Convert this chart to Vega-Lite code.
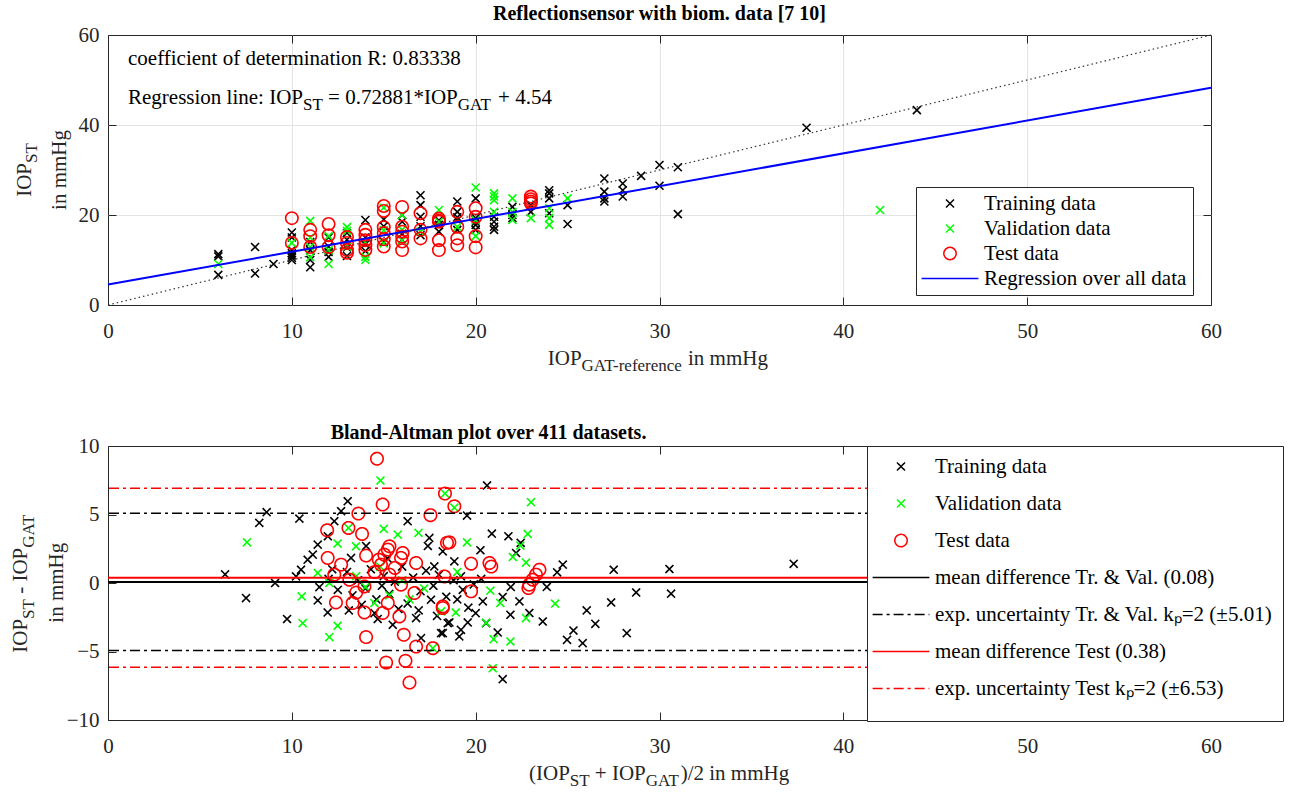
{
"$schema": "https://vega.github.io/schema/vega-lite/v6.json",
"background": "white",
"padding": {"left": 9, "top": 3, "right": 0, "bottom": 0},
"autosize": {"type": "pad"},
"config": {
  "font": "Liberation Serif",
  "view": {"stroke": "#262626", "strokeWidth": 1},
  "axis": {"labelFont": "Liberation Serif", "labelFontSize": 21, "labelColor": "#262626", "tickColor": "#262626", "tickSize": -8, "tickWidth": 1, "domain": false, "labelFlush": false, "labelOverlap": false, "labelBound": false, "grid": false, "gridColor": "#e3e3e3", "gridWidth": 1},
  "axisX": {"labelPadding": 23},
  "axisY": {"labelPadding": 17},
  "legend": {"labelFont": "Liberation Serif", "labelFontSize": 21, "labelColor": "#000000", "labelLimit": 0, "titleFont": "Liberation Serif"},
  "title": {"font": "Liberation Serif", "fontSize": 20, "fontWeight": "bold", "color": "#000000", "frame": "group"}
},
"datasets": {
  "top_pts": [
    {"gat":6,"st":11.3,"series":"Training data"},{"gat":6,"st":10.8,"series":"Training data"},{"gat":6,"st":6.7,"series":"Training data"},{"gat":8,"st":12.9,"series":"Training data"},{"gat":8,"st":7.0,"series":"Training data"},{"gat":9,"st":9.1,"series":"Training data"},
    {"gat":10,"st":16.1,"series":"Training data"},{"gat":10,"st":15.0,"series":"Training data"},{"gat":10,"st":12.2,"series":"Training data"},{"gat":10,"st":11.5,"series":"Training data"},{"gat":10,"st":11.0,"series":"Training data"},{"gat":10,"st":10.5,"series":"Training data"},{"gat":10,"st":10.0,"series":"Training data"},
    {"gat":11,"st":14.0,"series":"Training data"},{"gat":11,"st":12.2,"series":"Training data"},{"gat":11,"st":10.0,"series":"Training data"},{"gat":11,"st":8.4,"series":"Training data"},
    {"gat":12,"st":15.0,"series":"Training data"},{"gat":12,"st":13.0,"series":"Training data"},{"gat":12,"st":11.8,"series":"Training data"},{"gat":12,"st":10.7,"series":"Training data"},
    {"gat":13,"st":16.0,"series":"Training data"},{"gat":13,"st":14.5,"series":"Training data"},{"gat":13,"st":12.8,"series":"Training data"},{"gat":13,"st":10.9,"series":"Training data"},
    {"gat":14,"st":18.9,"series":"Training data"},{"gat":14,"st":15.0,"series":"Training data"},{"gat":14,"st":13.5,"series":"Training data"},{"gat":14,"st":12.0,"series":"Training data"},
    {"gat":15,"st":19.0,"series":"Training data"},{"gat":15,"st":17.5,"series":"Training data"},{"gat":15,"st":14.0,"series":"Training data"},
    {"gat":16,"st":20.0,"series":"Training data"},{"gat":16,"st":18.5,"series":"Training data"},{"gat":16,"st":15.8,"series":"Training data"},{"gat":16,"st":14.5,"series":"Training data"},
    {"gat":17,"st":24.4,"series":"Training data"},{"gat":17,"st":22.2,"series":"Training data"},{"gat":17,"st":19.6,"series":"Training data"},{"gat":17,"st":17.5,"series":"Training data"},{"gat":17,"st":15.5,"series":"Training data"},
    {"gat":18,"st":18.8,"series":"Training data"},{"gat":18,"st":17.8,"series":"Training data"},{"gat":18,"st":16.3,"series":"Training data"},
    {"gat":19,"st":23.0,"series":"Training data"},{"gat":19,"st":20.7,"series":"Training data"},{"gat":19,"st":19.5,"series":"Training data"},{"gat":19,"st":18.9,"series":"Training data"},{"gat":19,"st":16.7,"series":"Training data"},
    {"gat":20,"st":23.7,"series":"Training data"},{"gat":20,"st":19.3,"series":"Training data"},{"gat":20,"st":18.5,"series":"Training data"},{"gat":20,"st":17.8,"series":"Training data"},{"gat":20,"st":16.7,"series":"Training data"},
    {"gat":21,"st":19.6,"series":"Training data"},{"gat":21,"st":18.5,"series":"Training data"},{"gat":21,"st":17.4,"series":"Training data"},{"gat":21,"st":16.7,"series":"Training data"},
    {"gat":22,"st":21.8,"series":"Training data"},{"gat":22,"st":20.0,"series":"Training data"},{"gat":22,"st":19.3,"series":"Training data"},
    {"gat":23,"st":22.2,"series":"Training data"},{"gat":23,"st":20.7,"series":"Training data"},
    {"gat":24,"st":25.5,"series":"Training data"},{"gat":24,"st":24.8,"series":"Training data"},{"gat":24,"st":23.7,"series":"Training data"},{"gat":24,"st":20.4,"series":"Training data"},
    {"gat":25,"st":22.2,"series":"Training data"},{"gat":25,"st":18.0,"series":"Training data"},
    {"gat":27,"st":28.1,"series":"Training data"},{"gat":27,"st":25.2,"series":"Training data"},{"gat":27,"st":23.7,"series":"Training data"},{"gat":27,"st":23.0,"series":"Training data"},
    {"gat":28,"st":27.0,"series":"Training data"},{"gat":28,"st":25.5,"series":"Training data"},{"gat":28,"st":24.1,"series":"Training data"},
    {"gat":29,"st":28.7,"series":"Training data"},{"gat":30,"st":31.1,"series":"Training data"},{"gat":30,"st":26.5,"series":"Training data"},{"gat":31,"st":30.6,"series":"Training data"},{"gat":31,"st":20.2,"series":"Training data"},{"gat":38,"st":39.4,"series":"Training data"},{"gat":44,"st":43.3,"series":"Training data"},
    {"gat":6,"st":9.1,"series":"Validation data"},{"gat":10,"st":13.8,"series":"Validation data"},{"gat":11,"st":18.7,"series":"Validation data"},{"gat":11,"st":15.0,"series":"Validation data"},{"gat":11,"st":12.9,"series":"Validation data"},{"gat":11,"st":10.6,"series":"Validation data"},
    {"gat":12,"st":15.3,"series":"Validation data"},{"gat":12,"st":12.2,"series":"Validation data"},{"gat":12,"st":9.1,"series":"Validation data"},{"gat":13,"st":17.3,"series":"Validation data"},{"gat":13,"st":16.5,"series":"Validation data"},{"gat":13,"st":13.0,"series":"Validation data"},
    {"gat":14,"st":14.0,"series":"Validation data"},{"gat":14,"st":10.7,"series":"Validation data"},{"gat":14,"st":10.0,"series":"Validation data"},{"gat":15,"st":21.6,"series":"Validation data"},{"gat":15,"st":16.6,"series":"Validation data"},{"gat":15,"st":13.7,"series":"Validation data"},
    {"gat":16,"st":20.0,"series":"Validation data"},{"gat":16,"st":16.7,"series":"Validation data"},{"gat":16,"st":14.4,"series":"Validation data"},{"gat":17,"st":16.3,"series":"Validation data"},{"gat":18,"st":21.1,"series":"Validation data"},{"gat":18,"st":18.5,"series":"Validation data"},
    {"gat":19,"st":17.4,"series":"Validation data"},{"gat":20,"st":26.1,"series":"Validation data"},{"gat":20,"st":18.9,"series":"Validation data"},{"gat":20,"st":15.3,"series":"Validation data"},
    {"gat":21,"st":24.8,"series":"Validation data"},{"gat":21,"st":24.1,"series":"Validation data"},{"gat":21,"st":23.3,"series":"Validation data"},{"gat":21,"st":20.7,"series":"Validation data"},
    {"gat":22,"st":23.7,"series":"Validation data"},{"gat":22,"st":20.7,"series":"Validation data"},{"gat":22,"st":18.9,"series":"Validation data"},{"gat":23,"st":19.3,"series":"Validation data"},
    {"gat":24,"st":21.5,"series":"Validation data"},{"gat":24,"st":19.3,"series":"Validation data"},{"gat":24,"st":17.8,"series":"Validation data"},{"gat":25,"st":23.7,"series":"Validation data"},{"gat":42,"st":21.1,"series":"Validation data"},
    {"gat":10,"st":19.3,"series":"Test data"},{"gat":10,"st":13.8,"series":"Test data"},{"gat":11,"st":16.7,"series":"Test data"},{"gat":11,"st":15.3,"series":"Test data"},{"gat":11,"st":12.9,"series":"Test data"},
    {"gat":12,"st":18.0,"series":"Test data"},{"gat":12,"st":15.5,"series":"Test data"},{"gat":12,"st":12.9,"series":"Test data"},
    {"gat":13,"st":15.1,"series":"Test data"},{"gat":13,"st":13.8,"series":"Test data"},{"gat":13,"st":12.2,"series":"Test data"},{"gat":13,"st":11.6,"series":"Test data"},
    {"gat":14,"st":16.7,"series":"Test data"},{"gat":14,"st":15.6,"series":"Test data"},{"gat":14,"st":14.4,"series":"Test data"},{"gat":14,"st":13.3,"series":"Test data"},{"gat":14,"st":12.2,"series":"Test data"},
    {"gat":15,"st":22.0,"series":"Test data"},{"gat":15,"st":20.9,"series":"Test data"},{"gat":15,"st":17.3,"series":"Test data"},{"gat":15,"st":16.0,"series":"Test data"},{"gat":15,"st":14.6,"series":"Test data"},{"gat":15,"st":13.0,"series":"Test data"},
    {"gat":16,"st":21.8,"series":"Test data"},{"gat":16,"st":17.4,"series":"Test data"},{"gat":16,"st":16.3,"series":"Test data"},{"gat":16,"st":15.2,"series":"Test data"},{"gat":16,"st":14.1,"series":"Test data"},{"gat":16,"st":12.2,"series":"Test data"},
    {"gat":17,"st":20.4,"series":"Test data"},{"gat":17,"st":16.7,"series":"Test data"},{"gat":17,"st":14.8,"series":"Test data"},
    {"gat":18,"st":19.2,"series":"Test data"},{"gat":18,"st":18.8,"series":"Test data"},{"gat":18,"st":18.5,"series":"Test data"},{"gat":18,"st":14.4,"series":"Test data"},{"gat":18,"st":12.2,"series":"Test data"},
    {"gat":19,"st":20.7,"series":"Test data"},{"gat":19,"st":17.4,"series":"Test data"},{"gat":19,"st":14.8,"series":"Test data"},{"gat":19,"st":13.3,"series":"Test data"},
    {"gat":20,"st":21.5,"series":"Test data"},{"gat":20,"st":19.6,"series":"Test data"},{"gat":20,"st":15.3,"series":"Test data"},{"gat":20,"st":12.8,"series":"Test data"},
    {"gat":23,"st":24.1,"series":"Test data"},{"gat":23,"st":23.5,"series":"Test data"},{"gat":23,"st":23.0,"series":"Test data"},{"gat":23,"st":22.6,"series":"Test data"}
  ],
  "top_lines": [
    {"gat":0,"st":0,"line":"identity"},{"gat":60,"st":60,"line":"identity"},
    {"gat":0,"st":4.54,"line":"regression"},{"gat":60,"st":48.27,"line":"regression"}
  ],
  "bot_pts": [
    {"mean":6.37,"diff":0.63,"series":"Training data"},{"mean":7.51,"diff":-1.1,"series":"Training data"},{"mean":8.23,"diff":4.39,"series":"Training data"},{"mean":8.63,"diff":5.17,"series":"Training data"},{"mean":9.09,"diff":0.0,"series":"Training data"},{"mean":9.74,"diff":-2.63,"series":"Training data"},
    {"mean":10.41,"diff":4.7,"series":"Training data"},{"mean":10.23,"diff":0.48,"series":"Training data"},{"mean":10.5,"diff":0.97,"series":"Training data"},{"mean":10.86,"diff":1.7,"series":"Training data"},{"mean":11.14,"diff":2.07,"series":"Training data"},{"mean":11.41,"diff":2.8,"series":"Training data"},
    {"mean":11.96,"diff":3.41,"series":"Training data"},{"mean":11.41,"diff":-1.27,"series":"Training data"},{"mean":11.95,"diff":-2.15,"series":"Training data"},{"mean":12.31,"diff":4.51,"series":"Training data"},{"mean":12.68,"diff":5.24,"series":"Training data"},{"mean":13.04,"diff":5.97,"series":"Training data"},
    {"mean":13.22,"diff":1.83,"series":"Training data"},{"mean":14.04,"diff":2.7,"series":"Training data"},{"mean":16.3,"diff":4.51,"series":"Training data"},{"mean":17.48,"diff":3.29,"series":"Training data"},{"mean":17.4,"diff":2.7,"series":"Training data"},{"mean":17.75,"diff":1.21,"series":"Training data"},
    {"mean":15.49,"diff":-3.05,"series":"Training data"},{"mean":17.03,"diff":-4.02,"series":"Training data"},{"mean":18.12,"diff":-3.66,"series":"Training data"},{"mean":16.76,"diff":-2.56,"series":"Training data"},{"mean":17.57,"diff":-1.22,"series":"Training data"},{"mean":14.67,"diff":-2.63,"series":"Training data"},
    {"mean":14.5,"diff":-2.2,"series":"Training data"},{"mean":18.48,"diff":-2.93,"series":"Training data"},{"mean":20.62,"diff":7.12,"series":"Training data"},{"mean":19.53,"diff":4.92,"series":"Training data"},{"mean":20.88,"diff":3.6,"series":"Training data"},{"mean":21.78,"diff":3.41,"series":"Training data"},
    {"mean":22.45,"diff":2.93,"series":"Training data"},{"mean":22.2,"diff":2.19,"series":"Training data"},{"mean":20.26,"diff":2.39,"series":"Training data"},{"mean":18.84,"diff":1.58,"series":"Training data"},{"mean":24.74,"diff":1.34,"series":"Training data"},{"mean":24.43,"diff":0.78,"series":"Training data"},
    {"mean":27.51,"diff":0.97,"series":"Training data"},{"mean":30.54,"diff":1.02,"series":"Training data"},{"mean":18.21,"diff":2.31,"series":"Training data"},{"mean":19.2,"diff":0.49,"series":"Training data"},{"mean":28.73,"diff":-0.69,"series":"Training data"},{"mean":30.63,"diff":-0.78,"series":"Training data"},
    {"mean":27.37,"diff":-1.42,"series":"Training data"},{"mean":26.04,"diff":-2.0,"series":"Training data"},{"mean":26.51,"diff":-2.98,"series":"Training data"},{"mean":25.32,"diff":-3.47,"series":"Training data"},{"mean":24.97,"diff":-4.15,"series":"Training data"},{"mean":25.82,"diff":-4.39,"series":"Training data"},
    {"mean":28.22,"diff":-3.66,"series":"Training data"},{"mean":23.65,"diff":-2.81,"series":"Training data"},{"mean":22.92,"diff":-2.19,"series":"Training data"},{"mean":21.89,"diff":-2.32,"series":"Training data"},{"mean":22.38,"diff":-1.34,"series":"Training data"},{"mean":21.91,"diff":-0.29,"series":"Training data"},
    {"mean":23.87,"diff":-0.29,"series":"Training data"},{"mean":20.39,"diff":-1.34,"series":"Training data"},{"mean":21.47,"diff":-1.02,"series":"Training data"},{"mean":20.57,"diff":-2.93,"series":"Training data"},{"mean":21.2,"diff":-3.61,"series":"Training data"},{"mean":21.47,"diff":-7.02,"series":"Training data"},
    {"mean":19.57,"diff":-2.88,"series":"Training data"},{"mean":19.2,"diff":-3.42,"series":"Training data"},{"mean":19.11,"diff":-3.9,"series":"Training data"},{"mean":18.57,"diff":-2.88,"series":"Training data"},{"mean":18.21,"diff":-3.66,"series":"Training data"},{"mean":37.3,"diff":1.4,"series":"Training data"},
    {"mean":12.0,"diff":0.3,"series":"Training data"},{"mean":12.5,"diff":-0.5,"series":"Training data"},{"mean":13.0,"diff":0.8,"series":"Training data"},{"mean":13.3,"diff":-0.9,"series":"Training data"},{"mean":13.6,"diff":0.2,"series":"Training data"},{"mean":14.0,"diff":-0.4,"series":"Training data"},
    {"mean":14.3,"diff":1.0,"series":"Training data"},{"mean":14.6,"diff":-1.2,"series":"Training data"},{"mean":15.0,"diff":0.5,"series":"Training data"},{"mean":15.3,"diff":-0.8,"series":"Training data"},{"mean":15.6,"diff":0.1,"series":"Training data"},{"mean":16.0,"diff":1.2,"series":"Training data"},
    {"mean":16.3,"diff":-1.5,"series":"Training data"},{"mean":16.6,"diff":0.4,"series":"Training data"},{"mean":17.0,"diff":-0.6,"series":"Training data"},{"mean":17.3,"diff":0.9,"series":"Training data"},{"mean":17.7,"diff":-0.2,"series":"Training data"},{"mean":18.0,"diff":0.6,"series":"Training data"},
    {"mean":18.4,"diff":-1.0,"series":"Training data"},{"mean":18.8,"diff":0.2,"series":"Training data"},{"mean":19.3,"diff":-0.5,"series":"Training data"},{"mean":19.6,"diff":-1.8,"series":"Training data"},{"mean":19.9,"diff":-0.1,"series":"Training data"},{"mean":20.3,"diff":0.3,"series":"Training data"},
    {"mean":15.8,"diff":-1.9,"series":"Training data"},{"mean":16.9,"diff":-2.0,"series":"Training data"},{"mean":13.8,"diff":-1.6,"series":"Training data"},{"mean":15.2,"diff":1.8,"series":"Training data"},{"mean":17.9,"diff":-2.4,"series":"Training data"},{"mean":14.9,"diff":-0.2,"series":"Training data"},
    {"mean":19.0,"diff":-1.2,"series":"Training data"},{"mean":20.0,"diff":-2.2,"series":"Training data"},{"mean":12.2,"diff":1.0,"series":"Training data"},{"mean":11.5,"diff":-0.3,"series":"Training data"},{"mean":13.1,"diff":-2.0,"series":"Training data"},
    {"mean":7.56,"diff":2.97,"series":"Validation data"},{"mean":14.82,"diff":7.48,"series":"Validation data"},{"mean":18.33,"diff":6.53,"series":"Validation data"},{"mean":23.01,"diff":5.9,"series":"Validation data"},{"mean":12.49,"diff":2.88,"series":"Validation data"},{"mean":15.0,"diff":3.95,"series":"Validation data"},
    {"mean":15.76,"diff":3.53,"series":"Validation data"},{"mean":16.89,"diff":3.66,"series":"Validation data"},{"mean":13.08,"diff":4.02,"series":"Validation data"},{"mean":13.49,"diff":2.68,"series":"Validation data"},{"mean":11.41,"diff":0.73,"series":"Validation data"},{"mean":12.04,"diff":0.0,"series":"Validation data"},
    {"mean":10.54,"diff":-0.98,"series":"Validation data"},{"mean":10.59,"diff":-2.93,"series":"Validation data"},{"mean":12.49,"diff":-3.12,"series":"Validation data"},{"mean":12.04,"diff":-3.95,"series":"Validation data"},{"mean":14.49,"diff":-1.46,"series":"Validation data"},{"mean":15.3,"diff":-0.9,"series":"Validation data"},
    {"mean":16.4,"diff":-1.2,"series":"Validation data"},{"mean":18.12,"diff":-2.07,"series":"Validation data"},{"mean":17.67,"diff":-4.76,"series":"Validation data"},{"mean":18.92,"diff":-2.15,"series":"Validation data"},{"mean":19.53,"diff":2.97,"series":"Validation data"},{"mean":22.83,"diff":3.58,"series":"Validation data"},
    {"mean":22.43,"diff":2.73,"series":"Validation data"},{"mean":22.02,"diff":1.9,"series":"Validation data"},{"mean":22.74,"diff":1.49,"series":"Validation data"},{"mean":24.32,"diff":-1.51,"series":"Validation data"},{"mean":22.74,"diff":-2.56,"series":"Validation data"},{"mean":20.8,"diff":-0.56,"series":"Validation data"},
    {"mean":21.34,"diff":-1.46,"series":"Validation data"},{"mean":20.57,"diff":-2.9,"series":"Validation data"},{"mean":20.98,"diff":-4.1,"series":"Validation data"},{"mean":21.89,"diff":-4.27,"series":"Validation data"},{"mean":20.93,"diff":-6.22,"series":"Validation data"},{"mean":18.84,"diff":5.5,"series":"Validation data"},
    {"mean":14.0,"diff":-0.3,"series":"Validation data"},{"mean":13.5,"diff":0.5,"series":"Validation data"},{"mean":16.0,"diff":0.2,"series":"Validation data"},{"mean":17.2,"diff":-0.4,"series":"Validation data"},{"mean":19.0,"diff":0.8,"series":"Validation data"},{"mean":14.8,"diff":1.2,"series":"Validation data"},
    {"mean":14.63,"diff":9.07,"series":"Test data"},{"mean":14.94,"diff":5.73,"series":"Test data"},{"mean":18.33,"diff":6.53,"series":"Test data"},{"mean":17.54,"diff":4.95,"series":"Test data"},{"mean":13.62,"diff":5.07,"series":"Test data"},{"mean":11.92,"diff":3.85,"series":"Test data"},
    {"mean":13.08,"diff":4.02,"series":"Test data"},{"mean":13.82,"diff":3.58,"series":"Test data"},{"mean":18.44,"diff":2.93,"series":"Test data"},{"mean":11.95,"diff":1.83,"series":"Test data"},{"mean":12.68,"diff":1.34,"series":"Test data"},{"mean":14.04,"diff":2.0,"series":"Test data"},
    {"mean":14.85,"diff":1.34,"series":"Test data"},{"mean":15.03,"diff":2.07,"series":"Test data"},{"mean":15.22,"diff":2.44,"series":"Test data"},{"mean":15.31,"diff":2.68,"series":"Test data"},{"mean":14.73,"diff":1.7,"series":"Test data"},{"mean":16.03,"diff":2.19,"series":"Test data"},
    {"mean":15.94,"diff":1.83,"series":"Test data"},{"mean":16.76,"diff":1.46,"series":"Test data"},{"mean":15.31,"diff":0.61,"series":"Test data"},{"mean":15.94,"diff":-0.12,"series":"Test data"},{"mean":13.13,"diff":0.24,"series":"Test data"},{"mean":13.95,"diff":-0.25,"series":"Test data"},
    {"mean":18.3,"diff":0.48,"series":"Test data"},{"mean":12.31,"diff":0.61,"series":"Test data"},{"mean":12.4,"diff":-1.42,"series":"Test data"},{"mean":13.31,"diff":-1.46,"series":"Test data"},{"mean":13.95,"diff":-2.15,"series":"Test data"},{"mean":14.04,"diff":-3.95,"series":"Test data"},
    {"mean":14.94,"diff":-2.19,"series":"Test data"},{"mean":15.22,"diff":-1.46,"series":"Test data"},{"mean":15.85,"diff":-2.44,"series":"Test data"},{"mean":16.09,"diff":-3.78,"series":"Test data"},{"mean":16.76,"diff":-4.64,"series":"Test data"},{"mean":15.13,"diff":-5.81,"series":"Test data"},
    {"mean":16.18,"diff":-5.68,"series":"Test data"},{"mean":16.4,"diff":-7.27,"series":"Test data"},{"mean":16.67,"diff":-0.73,"series":"Test data"},{"mean":18.21,"diff":-1.83,"series":"Test data"},{"mean":17.67,"diff":-4.76,"series":"Test data"},{"mean":18.84,"diff":5.6,"series":"Test data"},
    {"mean":18.57,"diff":2.97,"series":"Test data"},{"mean":19.75,"diff":1.41,"series":"Test data"},{"mean":20.75,"diff":1.46,"series":"Test data"},{"mean":20.85,"diff":1.2,"series":"Test data"},{"mean":23.47,"diff":0.97,"series":"Test data"},{"mean":23.28,"diff":0.61,"series":"Test data"},
    {"mean":23.1,"diff":0.24,"series":"Test data"},{"mean":22.92,"diff":-0.12,"series":"Test data"},{"mean":22.87,"diff":-0.37,"series":"Test data"},{"mean":19.75,"diff":-0.61,"series":"Test data"},{"mean":18.21,"diff":-1.71,"series":"Test data"},{"mean":14.5,"diff":0.8,"series":"Test data"},
    {"mean":15.6,"diff":1.1,"series":"Test data"},{"mean":13.5,"diff":-0.7,"series":"Test data"}
  ],
  "bot_lines": [
    {"value":0.08,"kind":"mean_tv"},{"value":5.09,"kind":"unc_tv"},{"value":-4.93,"kind":"unc_tv"},
    {"value":0.38,"kind":"mean_test"},{"value":6.91,"kind":"unc_test"},{"value":-6.15,"kind":"unc_test"}
  ]
},
"resolve": {"scale": {"color": "independent", "shape": "independent", "strokeDash": "independent"}, "legend": {"color": "independent", "shape": "independent", "strokeDash": "independent"}},
"spacing": 47,
"vconcat": [
  {
    "width": 1103, "height": 270,
    "title": {"text": "Reflectionsensor with biom. data [7 10]", "offset": 0},
    "resolve": {"axis": {"x": "independent", "y": "independent"}},
    "layer": [
      {
        "data": {"name": "top_pts"},
        "mark": {"type": "point", "opacity": 0},
        "encoding": {
          "x": {"field": "gat", "type": "quantitative", "scale": {"domain": [0, 60], "nice": false, "zero": false}, "axis": {"orient": "top", "values": [10, 20, 30, 40, 50], "labels": false, "grid": true, "title": null}},
          "y": {"field": "st", "type": "quantitative", "scale": {"domain": [0, 60], "nice": false, "zero": false}, "axis": {"orient": "right", "values": [20, 40], "labels": false, "grid": true, "title": null}}
        }
      },
      {
        "data": {"name": "top_pts"},
        "mark": {"type": "point", "filled": false, "opacity": 1, "size": 64, "strokeWidth": 1.6},
        "encoding": {
          "x": {"field": "gat", "type": "quantitative", "scale": {"domain": [0, 60], "nice": false, "zero": false}, "axis": {"orient": "bottom", "values": [0, 10, 20, 30, 40, 50, 60], "title": null}},
          "y": {"field": "st", "type": "quantitative", "scale": {"domain": [0, 60], "nice": false, "zero": false}, "axis": {"orient": "left", "values": [0, 20, 40, 60], "title": null}},
          "color": {"field": "series", "type": "nominal",
            "scale": {"domain": ["Training data", "Validation data", "Test data", "Regression over all data"], "range": ["#000000", "#00ff00", "#ff0000", "#0000ff"]},
            "legend": {"title": null, "orient": "none", "legendX": 808, "legendY": 152, "fillColor": "#ffffff", "strokeColor": "#262626", "padding": 6, "symbolSize": 64, "symbolStrokeWidth": 1.5, "symbolOffset": 17.5, "labelOffset": 23.5, "rowPadding": 3}},
          "shape": {"field": "series", "type": "nominal",
            "scale": {"domain": ["Training data", "Validation data", "Test data", "Regression over all data"], "range": ["M-1,-1L1,1M-1,1L1,-1", "M-1,-1L1,1M-1,1L1,-1", "M1.55,0A1.55,1.55,0,1,1,-1.55,0A1.55,1.55,0,1,1,1.55,0Z", "M-7.1,0L7.1,0"]},
            "legend": {"title": null, "orient": "none", "legendX": 808, "legendY": 152, "fillColor": "#ffffff", "strokeColor": "#262626", "padding": 6, "symbolSize": 64, "symbolStrokeWidth": 1.5, "symbolOffset": 17.5, "labelOffset": 23.5, "rowPadding": 3}}
        }
      },
      {
        "data": {"name": "top_lines"},
        "transform": [{"filter": "datum.line === 'regression'"}],
        "mark": {"type": "line", "color": "#0000ff", "strokeWidth": 2},
        "encoding": {
          "x": {"field": "gat", "type": "quantitative", "axis": null},
          "y": {"field": "st", "type": "quantitative", "axis": null}
        }
      },
      {
        "data": {"name": "top_lines"},
        "transform": [{"filter": "datum.line === 'identity'"}],
        "mark": {"type": "line", "color": "#333333", "strokeWidth": 1.2, "strokeDash": [1.5, 3]},
        "encoding": {
          "x": {"field": "gat", "type": "quantitative", "axis": null},
          "y": {"field": "st", "type": "quantitative", "axis": null}
        }
      },
      {"data": {"values": [{}]}, "mark": {"type": "text", "text": "coefficient of determination R: 0.83338", "fontSize": 21, "align": "left", "baseline": "alphabetic", "color": "#000000"},
       "encoding": {"x": {"datum": 1.09, "type": "quantitative", "axis": null}, "y": {"datum": 53.3, "type": "quantitative", "axis": null}}},
      {"data": {"values": [{}]}, "mark": {"type": "text", "text": "Regression line: IOP", "fontSize": 21, "align": "left", "baseline": "alphabetic", "color": "#000000"},
       "encoding": {"x": {"datum": 1.09, "type": "quantitative", "axis": null}, "y": {"datum": 44.7, "type": "quantitative", "axis": null}}},
      {"data": {"values": [{}]}, "mark": {"type": "text", "text": "ST", "fontSize": 17, "align": "left", "baseline": "alphabetic", "color": "#000000"},
       "encoding": {"x": {"datum": 10.61, "type": "quantitative", "axis": null}, "y": {"datum": 43.33, "type": "quantitative", "axis": null}}},
      {"data": {"values": [{}]}, "mark": {"type": "text", "text": "= 0.72881*IOP", "fontSize": 21, "align": "left", "baseline": "alphabetic", "color": "#000000"},
       "encoding": {"x": {"datum": 11.97, "type": "quantitative", "axis": null}, "y": {"datum": 44.7, "type": "quantitative", "axis": null}}},
      {"data": {"values": [{}]}, "mark": {"type": "text", "text": "GAT", "fontSize": 17, "align": "left", "baseline": "alphabetic", "color": "#000000"},
       "encoding": {"x": {"datum": 19.03, "type": "quantitative", "axis": null}, "y": {"datum": 43.33, "type": "quantitative", "axis": null}}},
      {"data": {"values": [{}]}, "mark": {"type": "text", "text": "+ 4.54", "fontSize": 21, "align": "left", "baseline": "alphabetic", "color": "#000000"},
       "encoding": {"x": {"datum": 21.22, "type": "quantitative", "axis": null}, "y": {"datum": 44.7, "type": "quantitative", "axis": null}}},
      {"data": {"values": [{}]}, "mark": {"type": "text", "text": "IOP", "fontSize": 21, "align": "left", "baseline": "alphabetic", "color": "#262626"},
       "encoding": {"x": {"datum": 23.92, "type": "quantitative", "axis": null}, "y": {"datum": -13.33, "type": "quantitative", "axis": null}}},
      {"data": {"values": [{}]}, "mark": {"type": "text", "text": "GAT-reference", "fontSize": 17, "align": "left", "baseline": "alphabetic", "color": "#262626"},
       "encoding": {"x": {"datum": 25.76, "type": "quantitative", "axis": null}, "y": {"datum": -14.67, "type": "quantitative", "axis": null}}},
      {"data": {"values": [{}]}, "mark": {"type": "text", "text": "in mmHg", "fontSize": 21, "align": "left", "baseline": "alphabetic", "color": "#262626"},
       "encoding": {"x": {"datum": 31.55, "type": "quantitative", "axis": null}, "y": {"datum": -13.33, "type": "quantitative", "axis": null}}},
      {"data": {"values": [{}]}, "mark": {"type": "text", "text": "IOP", "fontSize": 21, "align": "left", "baseline": "alphabetic", "angle": 270, "color": "#262626"},
       "encoding": {"x": {"datum": -4.19, "type": "quantitative", "axis": null}, "y": {"datum": 24.04, "type": "quantitative", "axis": null}}},
      {"data": {"values": [{}]}, "mark": {"type": "text", "text": "ST", "fontSize": 17, "align": "left", "baseline": "alphabetic", "angle": 270, "color": "#262626"},
       "encoding": {"x": {"datum": -3.84, "type": "quantitative", "axis": null}, "y": {"datum": 31.56, "type": "quantitative", "axis": null}}},
      {"data": {"values": [{}]}, "mark": {"type": "text", "text": "in mmHg", "fontSize": 21, "align": "center", "baseline": "alphabetic", "angle": 270, "color": "#262626"},
       "encoding": {"x": {"datum": -2.285, "type": "quantitative", "axis": null}, "y": {"datum": 30, "type": "quantitative", "axis": null}}}
    ]
  },
  {
    "width": 1103, "height": 274,
    "title": {"text": "Bland-Altman plot over 411 datasets.", "offset": -8, "dx": -171},
    "resolve": {"axis": {"x": "independent", "y": "independent"}},
    "layer": [
      {
        "data": {"name": "bot_pts"},
        "mark": {"type": "point", "opacity": 0},
        "encoding": {
          "x": {"field": "mean", "type": "quantitative", "scale": {"domain": [0, 60], "nice": false, "zero": false}, "axis": {"orient": "top", "values": [10, 20, 30, 40, 50], "labels": false, "title": null}},
          "y": {"field": "diff", "type": "quantitative", "scale": {"domain": [-10, 10], "nice": false, "zero": false}, "axis": {"orient": "right", "values": [-5, 0, 5], "labels": false, "title": null}}
        }
      },
      {
        "data": {"name": "bot_pts"},
        "mark": {"type": "point", "filled": false, "opacity": 1, "size": 64, "strokeWidth": 1.6},
        "encoding": {
          "x": {"field": "mean", "type": "quantitative", "scale": {"domain": [0, 60], "nice": false, "zero": false}, "axis": {"orient": "bottom", "values": [0, 10, 20, 30, 40, 50, 60], "title": null}},
          "y": {"field": "diff", "type": "quantitative", "scale": {"domain": [-10, 10], "nice": false, "zero": false}, "axis": {"orient": "left", "values": [-10, -5, 0, 5, 10], "title": null}},
          "color": {"field": "series", "type": "nominal",
            "scale": {"domain": ["Training data", "Validation data", "Test data", "mean difference Tr. & Val. (0.08)", "exp. uncertainty Tr. & Val. kₚ=2 (±5.01)", "mean difference Test (0.38)", "exp. uncertainty Test kₚ=2 (±6.53)"], "range": ["#000000", "#00ff00", "#ff0000", "#000000", "#000000", "#ff0000", "#ff0000"]},
            "legend": {"title": "\u00a0", "titleOrient": "bottom", "titleFontSize": 8, "titlePadding": 4, "orient": "none", "legendX": 759, "legendY": 0, "fillColor": "#ffffff", "strokeColor": "#262626", "padding": 10, "symbolSize": 64, "symbolStrokeWidth": 1.5, "symbolOffset": 13.5, "labelOffset": 23.5, "rowPadding": 15}},
          "shape": {"field": "series", "type": "nominal",
            "scale": {"domain": ["Training data", "Validation data", "Test data", "mean difference Tr. & Val. (0.08)", "exp. uncertainty Tr. & Val. kₚ=2 (±5.01)", "mean difference Test (0.38)", "exp. uncertainty Test kₚ=2 (±6.53)"], "range": ["M-1,-1L1,1M-1,1L1,-1", "M-1,-1L1,1M-1,1L1,-1", "M1.55,0A1.55,1.55,0,1,1,-1.55,0A1.55,1.55,0,1,1,1.55,0Z", "M-7.1,0L7.1,0", "M-7.1,0L7.1,0", "M-7.1,0L7.1,0", "M-7.1,0L7.1,0"]},
            "legend": {"title": "\u00a0", "titleOrient": "bottom", "titleFontSize": 8, "titlePadding": 4, "orient": "none", "legendX": 759, "legendY": 0, "fillColor": "#ffffff", "strokeColor": "#262626", "padding": 10, "symbolSize": 64, "symbolStrokeWidth": 1.5, "symbolOffset": 13.5, "labelOffset": 23.5, "rowPadding": 15}},
          "strokeDash": {"field": "series", "type": "nominal",
            "scale": {"domain": ["Training data", "Validation data", "Test data", "mean difference Tr. & Val. (0.08)", "exp. uncertainty Tr. & Val. kₚ=2 (±5.01)", "mean difference Test (0.38)", "exp. uncertainty Test kₚ=2 (±6.53)"], "range": [[1, 0], [1, 0], [1, 0], [1, 0], [10, 4, 3, 4], [1, 0], [10, 4, 3, 4]]},
            "legend": {"title": "\u00a0", "titleOrient": "bottom", "titleFontSize": 8, "titlePadding": 4, "orient": "none", "legendX": 759, "legendY": 0, "fillColor": "#ffffff", "strokeColor": "#262626", "padding": 10, "symbolSize": 64, "symbolStrokeWidth": 1.5, "symbolOffset": 13.5, "labelOffset": 23.5, "rowPadding": 15}}
        }
      },
      {
        "data": {"name": "bot_lines"},
        "transform": [{"filter": "datum.kind === 'mean_tv'"}],
        "mark": {"type": "rule", "color": "#000000", "strokeWidth": 2},
        "encoding": {"y": {"field": "value", "type": "quantitative", "axis": null}}
      },
      {
        "data": {"name": "bot_lines"},
        "transform": [{"filter": "datum.kind === 'unc_tv'"}],
        "mark": {"type": "rule", "color": "#000000", "strokeWidth": 1.5, "strokeDash": [10, 4, 3, 4]},
        "encoding": {"y": {"field": "value", "type": "quantitative", "axis": null}}
      },
      {
        "data": {"name": "bot_lines"},
        "transform": [{"filter": "datum.kind === 'mean_test'"}],
        "mark": {"type": "rule", "color": "#ff0000", "strokeWidth": 2},
        "encoding": {"y": {"field": "value", "type": "quantitative", "axis": null}}
      },
      {
        "data": {"name": "bot_lines"},
        "transform": [{"filter": "datum.kind === 'unc_test'"}],
        "mark": {"type": "rule", "color": "#ff0000", "strokeWidth": 1.5, "strokeDash": [10, 4, 3, 4]},
        "encoding": {"y": {"field": "value", "type": "quantitative", "axis": null}}
      },
      {"data": {"values": [{}]}, "mark": {"type": "text", "text": "(IOP", "fontSize": 21, "align": "left", "baseline": "alphabetic", "color": "#262626"},
       "encoding": {"x": {"datum": 22.9, "type": "quantitative", "axis": null}, "y": {"datum": -14.39, "type": "quantitative", "axis": null}}},
      {"data": {"values": [{}]}, "mark": {"type": "text", "text": "ST", "fontSize": 17, "align": "left", "baseline": "alphabetic", "color": "#262626"},
       "encoding": {"x": {"datum": 25.12, "type": "quantitative", "axis": null}, "y": {"datum": -14.83, "type": "quantitative", "axis": null}}},
      {"data": {"values": [{}]}, "mark": {"type": "text", "text": "+ IOP", "fontSize": 21, "align": "left", "baseline": "alphabetic", "color": "#262626"},
       "encoding": {"x": {"datum": 26.48, "type": "quantitative", "axis": null}, "y": {"datum": -14.39, "type": "quantitative", "axis": null}}},
      {"data": {"values": [{}]}, "mark": {"type": "text", "text": "GAT", "fontSize": 17, "align": "left", "baseline": "alphabetic", "color": "#262626"},
       "encoding": {"x": {"datum": 29.25, "type": "quantitative", "axis": null}, "y": {"datum": -14.83, "type": "quantitative", "axis": null}}},
      {"data": {"values": [{}]}, "mark": {"type": "text", "text": ")/2 in mmHg", "fontSize": 21, "align": "left", "baseline": "alphabetic", "color": "#262626"},
       "encoding": {"x": {"datum": 31.15, "type": "quantitative", "axis": null}, "y": {"datum": -14.39, "type": "quantitative", "axis": null}}},
      {"data": {"values": [{}]}, "mark": {"type": "text", "text": "IOP", "fontSize": 21, "align": "left", "baseline": "alphabetic", "angle": 270, "color": "#262626"},
       "encoding": {"x": {"datum": -4.41, "type": "quantitative", "axis": null}, "y": {"datum": -5.09, "type": "quantitative", "axis": null}}},
      {"data": {"values": [{}]}, "mark": {"type": "text", "text": "ST", "fontSize": 17, "align": "left", "baseline": "alphabetic", "angle": 270, "color": "#262626"},
       "encoding": {"x": {"datum": -4.03, "type": "quantitative", "axis": null}, "y": {"datum": -2.62, "type": "quantitative", "axis": null}}},
      {"data": {"values": [{}]}, "mark": {"type": "text", "text": "- IOP", "fontSize": 21, "align": "left", "baseline": "alphabetic", "angle": 270, "color": "#262626"},
       "encoding": {"x": {"datum": -4.41, "type": "quantitative", "axis": null}, "y": {"datum": -0.79, "type": "quantitative", "axis": null}}},
      {"data": {"values": [{}]}, "mark": {"type": "text", "text": "GAT", "fontSize": 17, "align": "left", "baseline": "alphabetic", "angle": 270, "color": "#262626"},
       "encoding": {"x": {"datum": -4.03, "type": "quantitative", "axis": null}, "y": {"datum": 2.58, "type": "quantitative", "axis": null}}},
      {"data": {"values": [{}]}, "mark": {"type": "text", "text": "in mmHg", "fontSize": 21, "align": "center", "baseline": "alphabetic", "angle": 270, "color": "#262626"},
       "encoding": {"x": {"datum": -2.45, "type": "quantitative", "axis": null}, "y": {"datum": 0.02, "type": "quantitative", "axis": null}}}
    ]
  }
]
}
